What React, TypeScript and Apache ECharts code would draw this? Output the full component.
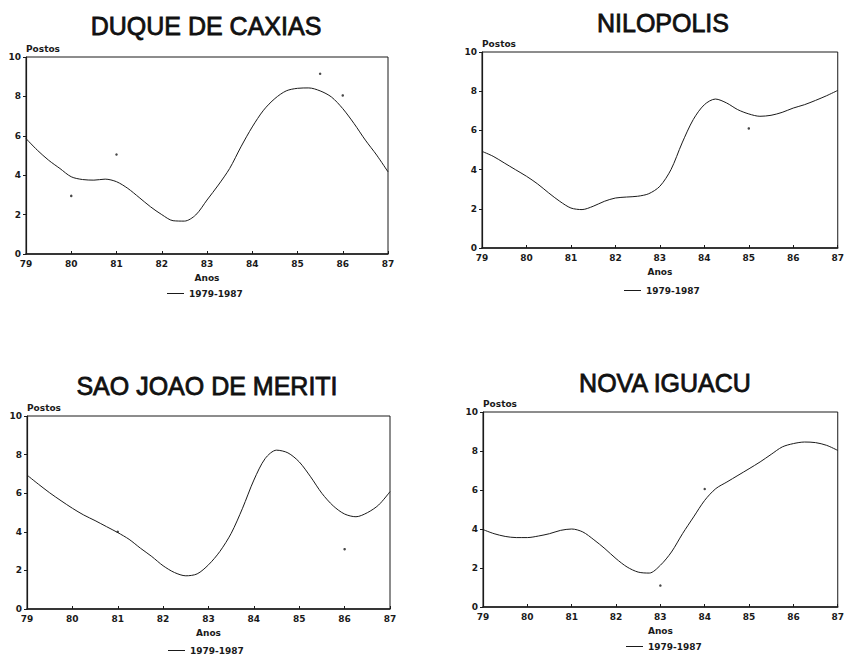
import React, { useEffect, useRef } from "react";
import * as echarts from "echarts";

const curveYears = [
  79, 79.25, 79.5, 79.75, 80, 80.25, 80.5, 80.75, 81, 81.25, 81.5, 81.75, 82, 82.25, 82.5, 82.75,
  83, 83.25, 83.5, 83.75, 84, 84.25, 84.5, 84.75, 85, 85.25, 85.5, 85.75, 86, 86.25, 86.5, 86.75, 87,
];

const titles = ["DUQUE DE CAXIAS", "NILOPOLIS", "SAO JOAO DE MERITI", "NOVA IGUACU"];
const legendLabel = "1979-1987";
const yAxisName = "Postos";
const xAxisName = "Anos";

const duqueCurve = [
  5.86, 5.27, 4.76, 4.34, 3.92, 3.78, 3.75, 3.8, 3.67, 3.33, 2.87, 2.4, 2.0, 1.69, 1.67, 1.98,
  2.74, 3.5, 4.34, 5.44, 6.45, 7.3, 7.89, 8.28, 8.41, 8.43, 8.28, 7.97, 7.38, 6.62, 5.78, 5.02, 4.17,
];
const niloCurve = [
  4.93, 4.68, 4.34, 4.0, 3.66, 3.27, 2.81, 2.38, 2.04, 1.96, 2.13, 2.38, 2.55, 2.6, 2.64, 2.77,
  3.15, 4.0, 5.36, 6.55, 7.31, 7.6, 7.4, 7.06, 6.84, 6.72, 6.77, 6.92, 7.14, 7.31, 7.53, 7.77, 8.04,
];
const meritiCurve = [
  6.94, 6.47, 6.02, 5.61, 5.22, 4.87, 4.58, 4.27, 3.96, 3.61, 3.15, 2.72, 2.24, 1.89, 1.72, 1.82,
  2.29, 2.98, 3.92, 5.22, 6.68, 7.8, 8.23, 8.09, 7.62, 6.85, 5.99, 5.34, 4.92, 4.78, 4.99, 5.39, 6.08,
];
const iguacuCurve = [
  3.97, 3.76, 3.62, 3.56, 3.56, 3.64, 3.76, 3.93, 4.0, 3.85, 3.45, 2.99, 2.48, 2.05, 1.79, 1.74,
  2.14, 2.82, 3.76, 4.62, 5.47, 6.07, 6.41, 6.75, 7.09, 7.44, 7.83, 8.21, 8.38, 8.46, 8.43, 8.29, 8.03,
];

const duqueDots = [[80, 2.95], [81, 5.05], [85.5, 9.15], [86, 8.05]];
const niloDots = [[85, 6.1]];
const meritiDots = [[81, 4.0], [86, 3.1]];
const iguacuDots = [[83, 1.1], [84, 6.05]];

const curves = [duqueCurve, niloCurve, meritiCurve, iguacuCurve];
const dots = [duqueDots, niloDots, meritiDots, iguacuDots];

const grids = [
  { left: 26, top: 57, width: 362, height: 197 },
  { left: 482, top: 52, width: 364, height: 196 },
  { left: 27, top: 416, width: 363, height: 193 },
  { left: 483, top: 412, width: 363, height: 195 },
];
const titlePos = [
  { x: 206, y: 13 },
  { x: 663, y: 10 },
  { x: 207, y: 373 },
  { x: 665, y: 370 },
];
const legendPos = [
  { x: 167, y: 289 },
  { x: 624, y: 286 },
  { x: 168, y: 646 },
  { x: 626, y: 642 },
];

const FONT = "DejaVu Sans";
const TITLE_FONT = "Liberation Sans";
const INK = "#1a1a1a";

export default function App() {
  const ref = useRef<HTMLDivElement>(null);
  useEffect(() => {
    document.body.style.margin = "0";
    if (!ref.current) return;
    const chart = echarts.init(ref.current, undefined, { renderer: "svg" });
    const smallText = { fontFamily: FONT, fontSize: 9, fontWeight: "bold" as const, color: INK };
    const option: any = {
      animation: false,
      backgroundColor: "#ffffff",
      title: titles.map((t, i) => ({
        text: t,
        left: titlePos[i].x,
        top: titlePos[i].y,
        textAlign: "center",
        padding: 0,
        textStyle: {
          fontFamily: TITLE_FONT,
          fontSize: 25,
          fontWeight: "normal",
          color: "#111",
          textBorderColor: "#111",
          textBorderWidth: 0.8,
        },
      })),
      legend: legendPos.map((p) => ({
        data: [legendLabel],
        left: p.x,
        top: p.y,
        padding: 0,
        icon: "rect",
        itemWidth: 17,
        itemHeight: 1,
        selectedMode: false,
        textStyle: smallText,
      })),
      grid: grids.map((g) => ({ ...g, show: true, borderColor: INK, borderWidth: 1, containLabel: false })),
      xAxis: grids.map((_, i) => ({
        type: "value",
        gridIndex: i,
        min: 79,
        max: 87,
        interval: 1,
        name: xAxisName,
        nameLocation: "middle",
        nameGap: 19,
        nameTextStyle: smallText,
        axisLine: { show: true, onZero: false, lineStyle: { color: INK, width: 1.5 } },
        axisTick: { show: true, inside: true, length: 3, lineStyle: { color: INK } },
        axisLabel: { ...smallText, margin: 5, formatter: (v: number) => String(v) },
        splitLine: { show: false },
      })),
      yAxis: grids.map((_, i) => ({
        type: "value",
        gridIndex: i,
        min: 0,
        max: 10,
        interval: 2,
        name: yAxisName,
        nameLocation: "end",
        nameGap: 4,
        nameTextStyle: { ...smallText, align: "left", verticalAlign: "bottom" },
        axisLine: { show: true, lineStyle: { color: INK, width: 1.2 } },
        axisTick: { show: true, inside: false, length: 3, lineStyle: { color: INK } },
        axisLabel: { ...smallText, margin: 5 },
        splitLine: { show: false },
      })),
      series: [
        ...curves.map((c, i) => ({
          type: "line",
          name: legendLabel,
          xAxisIndex: i,
          yAxisIndex: i,
          data: curveYears.map((y, k) => [y, c[k]]),
          smooth: 0.3,
          symbol: "none",
          lineStyle: { color: INK, width: 1 },
          itemStyle: { color: INK },
        })),
        ...dots.map((d, i) => ({
          type: "scatter",
          name: "pontos",
          xAxisIndex: i,
          yAxisIndex: i,
          data: d,
          symbolSize: 2.5,
          itemStyle: { color: INK },
        })),
      ],
    };
    chart.setOption(option);
    return () => chart.dispose();
  }, []);
  return <div ref={ref} style={{ width: 847, height: 655, position: "absolute", left: 0, top: 0 }} />;
}
